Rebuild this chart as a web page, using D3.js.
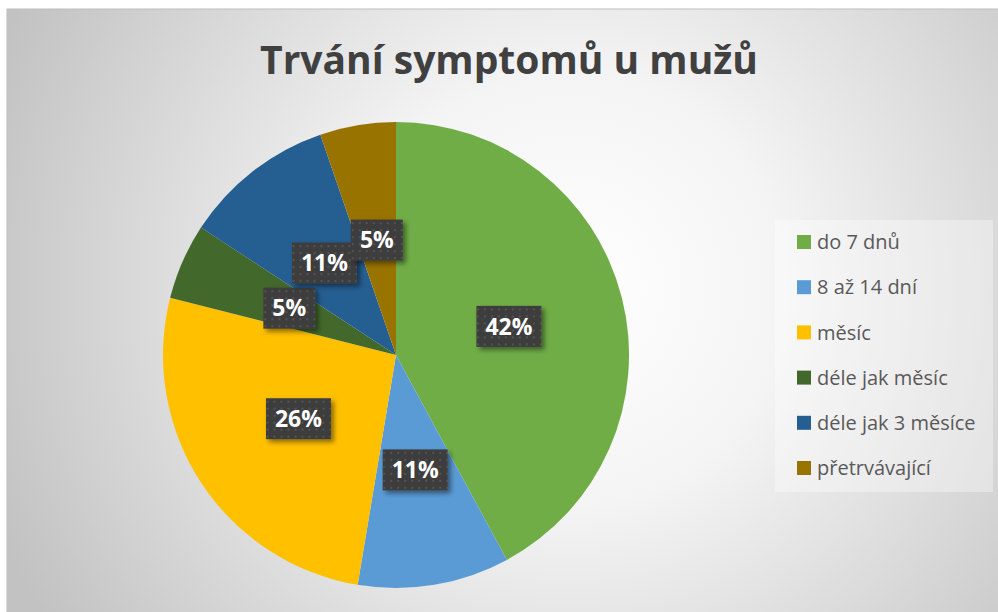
<!DOCTYPE html>
<html>
<head>
<meta charset="utf-8">
<script src="https://cdn.jsdelivr.net/npm/d3@7"></script>
<style>
  body { margin: 0; background: #fff; }
  svg { display: block; }
</style>
</head>
<body>
<div id="app"></div>
<script>
const categories = ["do 7 dnů", "8 až 14 dní", "měsíc", "déle jak měsíc", "déle jak 3 měsíce", "přetrvávající"];
const counts = [8, 2, 5, 1, 2, 1];
const colors = ["#70AD47", "#5B9BD5", "#FFC000", "#43682B", "#255E91", "#997300"];
const title = "Trvání symptomů u mužů";

const w = 998;
const h = 612;
const cx = 396, cy = 355, r = 233;
const font = "'Open Sans', 'DejaVu Sans', sans-serif";

const svg = d3.select("#app").append("svg")
  .attr("width", w)
  .attr("height", h);

const defs = svg.append("defs");

const bg = defs.append("radialGradient")
  .attr("id", "bg")
  .attr("gradientUnits", "userSpaceOnUse")
  .attr("cx", 570).attr("cy", 290).attr("r", 620);
bg.append("stop").attr("offset", "0").attr("stop-color", "#ffffff");
bg.append("stop").attr("offset", "0.35").attr("stop-color", "#f4f4f4");
bg.append("stop").attr("offset", "1").attr("stop-color", "#c2c2c2");

const pat = defs.append("pattern")
  .attr("id", "dots")
  .attr("patternUnits", "userSpaceOnUse")
  .attr("width", 7).attr("height", 7);
pat.append("rect").attr("width", 7).attr("height", 7).attr("fill", "#3e3e3e");
pat.append("rect").attr("x", 3).attr("y", 3).attr("width", 2).attr("height", 2).attr("fill", "#525252");

const shadow = defs.append("filter")
  .attr("id", "shadow")
  .attr("x", "-30%").attr("y", "-30%")
  .attr("width", "170%").attr("height", "170%");
shadow.append("feDropShadow")
  .attr("dx", 3).attr("dy", 3)
  .attr("stdDeviation", 2.5)
  .attr("flood-color", "#000")
  .attr("flood-opacity", 0.45);

// chart area
svg.append("rect")
  .attr("x", 7).attr("y", 9)
  .attr("width", w).attr("height", h)
  .attr("fill", "url(#bg)")
  .attr("stroke", "#bdbdbd")
  .attr("stroke-width", 1);

// title, fitted to the width seen in the picture
const titleText = svg.append("text")
  .attr("x", 509)
  .attr("y", 74)
  .attr("text-anchor", "middle")
  .attr("font-family", font)
  .attr("font-weight", "bold")
  .attr("font-size", "36px")
  .attr("fill", "#404040")
  .text(title);
const tl = titleText.node().getComputedTextLength();
titleText.attr("font-size", (36 * 498 / tl) + "px");

// pie
const pie = d3.pie().sort(null).value(d => d)(counts);
const arc = d3.arc().innerRadius(0).outerRadius(r);

const g = svg.append("g").attr("transform", "translate(" + cx + "," + cy + ")");

g.selectAll("path")
  .data(pie)
  .enter()
  .append("path")
  .attr("d", arc)
  .attr("fill", (d, i) => colors[i]);

const total = d3.sum(counts);

const labels = g.selectAll("g.lbl")
  .data(pie)
  .enter()
  .append("g")
  .attr("class", "lbl")
  .attr("transform", d => "translate(" + arc.centroid(d) + ")");

labels.each(function (d) {
  const sel = d3.select(this);
  const box = sel.append("rect").attr("fill", "url(#dots)").attr("filter", "url(#shadow)");
  const t = sel.append("text")
    .attr("text-anchor", "middle")
    .attr("dy", "0.36em")
    .attr("font-family", font)
    .attr("font-weight", "bold")
    .attr("font-size", "23px")
    .attr("fill", "#ffffff")
    .text(Math.round(d.value / total * 100) + "%");
  const tw = t.node().getComputedTextLength();
  const bw = tw + 18, bh = 41;
  box.attr("x", -bw / 2).attr("y", -bh / 2).attr("width", bw).attr("height", bh);
});

// legend
svg.append("rect")
  .attr("x", 775).attr("y", 220)
  .attr("width", 218).attr("height", 272)
  .attr("fill", "#ffffff")
  .attr("fill-opacity", 0.35);

const legend = svg.selectAll("g.leg")
  .data(categories)
  .enter()
  .append("g")
  .attr("class", "leg")
  .attr("transform", (d, i) => "translate(797," + (242 + i * 45.2) + ")");

legend.append("rect")
  .attr("x", 0).attr("y", -7)
  .attr("width", 14).attr("height", 14)
  .attr("fill", (d, i) => colors[i]);

legend.append("text")
  .attr("x", 20)
  .attr("dy", "0.36em")
  .attr("font-family", font)
  .attr("font-size", "20px")
  .attr("fill", "#595959")
  .text(d => d);
</script>
</body>
</html>
